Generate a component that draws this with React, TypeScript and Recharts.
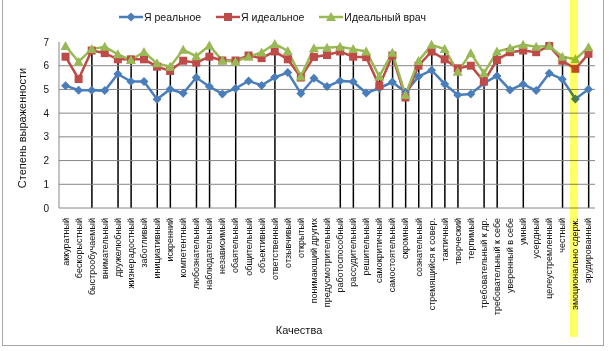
import React from "react";
import { ComposedChart, Line, Bar, XAxis, YAxis, ReferenceLine, Legend, Label } from "recharts";

const categories = [
  "аккуратный", "бескорыстный", "быстрообучаемый", "внимательный", "дружелюбный",
  "жизнерадостный", "заботливый", "инициативный", "искренний", "компетентный",
  "любознательный", "наблюдательный", "независимый", "обаятельный", "общительный",
  "объективный", "ответственный", "отзывчивый", "открытый", "понимающий других",
  "предусмотрительный", "работоспособный", "рассудительный", "решительный", "самокритичный",
  "самостоятельный", "скромный", "сознательный", "стремящийся к совер.", "тактичный",
  "творческий", "терпимый", "требовательный к др.", "требовательный к себе", "уверенный в себе",
  "умный", "усердный", "целеустремленный", "честный", "эмоционально сдерж.",
  "эрудированный",
];

// Я реальное
const realSelf = [
  5.16, 4.97, 4.97, 4.95, 5.65, 5.33, 5.33, 4.59, 5.01, 4.84,
  5.5, 5.12, 4.81, 5.04, 5.36, 5.17, 5.51, 5.71, 4.83, 5.47,
  5.12, 5.36, 5.32, 4.85, 5.05, 5.31, 4.88, 5.54, 5.81, 5.23,
  4.77, 4.81, 5.26, 5.57, 4.98, 5.22, 4.95, 5.68, 5.43, 4.6,
  5.01,
];

// Я идеальное
const idealSelf = [
  6.38, 5.44, 6.64, 6.53, 6.27, 6.27, 6.27, 5.96, 5.78, 6.21,
  6.13, 6.38, 6.22, 6.22, 6.43, 6.32, 6.6, 6.27, 5.5, 6.37,
  6.45, 6.6, 6.38, 6.36, 5.15, 6.43, 4.66, 6.0, 6.6, 6.27,
  5.89, 6.0, 5.33, 6.24, 6.57, 6.64, 6.57, 6.83, 6.21, 5.87,
  6.5,
];

// Идеальный врач
const idealDoctor = [
  6.83, 6.17, 6.7, 6.8, 6.48, 6.24, 6.58, 6.1, 5.96, 6.67,
  6.4, 6.85, 6.22, 6.17, 6.38, 6.56, 6.92, 6.62, 5.55, 6.74,
  6.76, 6.8, 6.7, 6.6, 5.55, 6.55, 4.77, 6.2, 6.88, 6.7,
  5.75, 6.53, 5.68, 6.6, 6.74, 6.88, 6.8, 6.83, 6.38, 6.27,
  6.78,
];

// categories with a black drop line
const marked = [2, 4, 5, 7, 8, 10, 11, 13, 16, 21, 22, 24, 25, 26, 27, 28, 29, 30, 32, 33, 35, 38, 40];

const yTicks = [0, 1, 2, 3, 4, 5, 6, 7];
const gridValues = [1, 2, 3, 4, 5, 6];

const series = [
  { key: "real", label: "Я реальное", color: "#4A7EBB", marker: "diamond" },
  { key: "ideal", label: "Я идеальное", color: "#BE4B48", marker: "square" },
  { key: "doctor", label: "Идеальный врач", color: "#98B954", marker: "triangle" },
];

const data = categories.map((name, i) => ({
  name,
  real: realSelf[i],
  ideal: idealSelf[i],
  doctor: idealDoctor[i],
  drop: marked.includes(i) ? Math.max(idealSelf[i], idealDoctor[i]) : null,
}));

const font = "'Liberation Sans', Arial, sans-serif";

function marker(kind: string, cx: number, cy: number, color: string, key?: any) {
  if (kind === "diamond") {
    return <polygon key={key} points={`${cx},${cy - 4.5} ${cx + 4.5},${cy} ${cx},${cy + 4.5} ${cx - 4.5},${cy}`} fill={color} />;
  }
  if (kind === "square") {
    return <rect key={key} x={cx - 4} y={cy - 4} width={8} height={8} fill={color} />;
  }
  return <polygon key={key} points={`${cx},${cy - 5} ${cx + 5},${cy + 4} ${cx - 5},${cy + 4}`} fill={color} />;
}

function makeDot(kind: string, color: string) {
  return (p: any) => {
    if (p.cx == null || p.cy == null) return <g key={p.index} />;
    return marker(kind, p.cx, p.cy, color, p.index);
  };
}

function CategoryTick({ x, y, payload }: any) {
  return (
    <text x={x} y={y} dy={3} transform={`rotate(-90 ${x} ${y})`} textAnchor="end" fontSize={9} fontFamily={font} fill="#111">
      {payload.value}
    </text>
  );
}

function LegendBox() {
  return (
    <div style={{ display: "flex", alignItems: "center", paddingLeft: 119, fontSize: 10.5, fontFamily: font, color: "#111" }}>
      {series.map((s) => (
        <div key={s.key} style={{ display: "flex", alignItems: "center", marginRight: 15 }}>
          <svg width={24} height={12}>
            <line x1={0} y1={6} x2={24} y2={6} stroke={s.color} strokeWidth={2.5} />
            {marker(s.marker, 12, 6, s.color)}
          </svg>
          <span style={{ marginLeft: 1 }}>{s.label}</span>
        </div>
      ))}
    </div>
  );
}

export default function App() {
  return (
    <div style={{ position: "absolute", left: 0, top: 0, width: 609, height: 351, background: "#fff" }}>
      <div style={{ position: "absolute", left: 2, top: -1, width: 600, height: 345, border: "1px solid #a6a6a6" }} />
      <ComposedChart
        width={609}
        height={351}
        data={data}
        margin={{ top: 42, right: 14, left: 0, bottom: 0 }}
        barCategoryGap={0}
      >
        <XAxis
          dataKey="name"
          interval={0}
          height={143}
          tickLine={false}
          axisLine={{ stroke: "#868686" }}
          tick={<CategoryTick />}
          tickMargin={4}
        >
          <Label
            content={() => (
              <text x={299} y={330} textAnchor="middle" dominantBaseline="central" fontSize={11} fontFamily={font} fill="#111">
                Качества
              </text>
            )}
          />
        </XAxis>
        <YAxis
          domain={[0, 7]}
          ticks={yTicks}
          width={59}
          tickLine={false}
          tickSize={0}
          tickMargin={10}
          axisLine={{ stroke: "#868686" }}
          tick={{ fontSize: 10, fontFamily: font, fill: "#111" }}
        >
          <Label
            content={() => (
              <text x={22} y={128} transform="rotate(-90 22 128)" textAnchor="middle" dominantBaseline="central" fontSize={11} fontFamily={font} fill="#111">
                Степень выраженности
              </text>
            )}
          />
        </YAxis>
        {gridValues.map((v) => (
          <ReferenceLine key={v} y={v} stroke="#868686" strokeWidth={1} ifOverflow="visible" />
        ))}
        <Legend
          verticalAlign="middle"
          content={<LegendBox />}
          wrapperStyle={{ top: 11, left: 0, width: 609 }}
        />
        {series.map((s) => (
          <Line
            key={s.key}
            dataKey={s.key}
            stroke={s.color}
            strokeWidth={2.5}
            dot={makeDot(s.marker, s.color)}
            activeDot={false}
            isAnimationActive={false}
          />
        ))}
        <Bar dataKey="drop" fill="#000" barSize={1.5} isAnimationActive={false} />
      </ComposedChart>
      <div
        style={{
          position: "absolute",
          left: 570,
          top: 0,
          width: 8,
          height: 337,
          background: "#ffff66",
          mixBlendMode: "multiply",
          pointerEvents: "none",
        }}
      />
    </div>
  );
}
